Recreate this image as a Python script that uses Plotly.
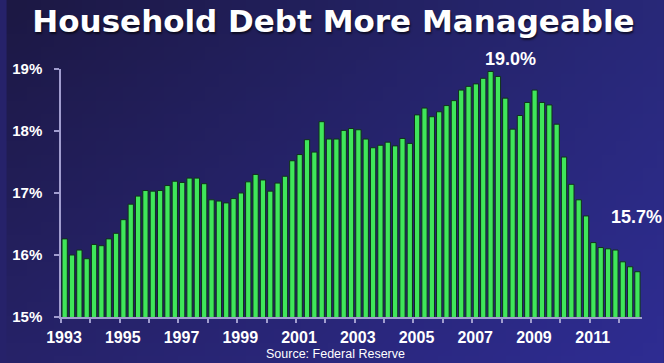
import plotly.graph_objects as go
import zlib, struct, base64

# ---- data (quarterly, 1993Q1 .. 2012Q3) ----
years = list(range(1993, 2013))
values_1993 = [16.26, 16.00, 16.08, 15.94]
values_1994 = [16.17, 16.15, 16.26, 16.35]
values_1995 = [16.57, 16.82, 16.95, 17.04]
values_1996 = [17.03, 17.04, 17.12, 17.19]
values_1997 = [17.17, 17.24, 17.24, 17.15]
values_1998 = [16.89, 16.87, 16.84, 16.91]
values_1999 = [17.00, 17.18, 17.30, 17.21]
values_2000 = [17.03, 17.16, 17.27, 17.52]
values_2001 = [17.62, 17.86, 17.66, 18.15]
values_2002 = [17.87, 17.87, 18.01, 18.04]
values_2003 = [18.02, 17.87, 17.73, 17.77]
values_2004 = [17.82, 17.76, 17.88, 17.80]
values_2005 = [18.26, 18.37, 18.23, 18.31]
values_2006 = [18.41, 18.49, 18.66, 18.72]
values_2007 = [18.76, 18.85, 18.96, 18.88]
values_2008 = [18.53, 18.03, 18.25, 18.46]
values_2009 = [18.66, 18.46, 18.42, 18.11]
values_2010 = [17.58, 17.14, 16.89, 16.63]
values_2011 = [16.20, 16.12, 16.10, 16.08]
values_2012 = [15.89, 15.81, 15.73]
yearly = [values_1993, values_1994, values_1995, values_1996, values_1997,
          values_1998, values_1999, values_2000, values_2001, values_2002,
          values_2003, values_2004, values_2005, values_2006, values_2007,
          values_2008, values_2009, values_2010, values_2011, values_2012]

xpos, vals = [], []
for yr, qs in zip(years, yearly):
    for q, v in enumerate(qs):
        xpos.append(yr + (q + 0.5) / 4.0)
        vals.append(v)

y_ticks = [15, 16, 17, 18, 19]
y_ticktext = ["15%", "16%", "17%", "18%", "19%"]
x_tickvals = list(range(1993, 2013))
x_ticktext = [str(y) if (y - 1993) % 2 == 0 else "" for y in x_tickvals]

# ---- gradient background as PNG ----
def make_png(w, h, fn):
    raw = b""
    for j in range(h):
        row = b"\x00"
        for i in range(w):
            r, g, b = fn(i / (w - 1), j / (h - 1))
            row += bytes((r, g, b))
        raw += row
    def chunk(t, d):
        c = struct.pack(">I", len(d)) + t + d
        return c + struct.pack(">I", zlib.crc32(t + d) & 0xffffffff)
    png = b"\x89PNG\r\n\x1a\n" + chunk(b"IHDR", struct.pack(">IIBBBBB", w, h, 8, 2, 0, 0, 0))
    png += chunk(b"IDAT", zlib.compress(raw)) + chunk(b"IEND", b"")
    return "data:image/png;base64," + base64.b64encode(png).decode()

TL, TR, BL, BR = (28, 24, 68), (40, 40, 120), (38, 34, 104), (46, 44, 146)
def grad(u, v):
    return tuple(int(round((TL[k] * (1 - u) + TR[k] * u) * (1 - v) + (BL[k] * (1 - u) + BR[k] * u) * v)) for k in range(3))
bg = make_png(48, 27, grad)

W, H = 664, 363
ml, mr, mt, mb = 55, 22, 69, 46
pw, ph = W - ml - mr, H - mt - mb

axis_col = "#a19dcf"
fig = go.Figure()
fig.add_trace(go.Bar(
    x=xpos, y=vals, width=0.18,
    marker=dict(color="#3fe65a", line=dict(color="#10301a", width=1)),
    hoverinfo="x+y",
))

imax = vals.index(max(vals))
fig.add_annotation(x=xpos[imax], y=vals[imax], text=f"{vals[imax]:.1f}%", showarrow=False,
                   xshift=20, yshift=12, yanchor="middle",
                   font=dict(family="Liberation Sans, Arial", size=18, color="white", weight="bold"))
fig.add_annotation(x=xpos[-1], y=vals[-1], text=f"{vals[-1]:.1f}%", showarrow=False,
                   xshift=-1, yshift=55, yanchor="middle",
                   font=dict(family="Liberation Sans, Arial", size=18, color="white", weight="bold"))
fig.add_annotation(xref="paper", yref="paper", x=(332 - ml) / pw, y=-(354 - (mt + ph)) / ph,
                   text="Source: Federal Reserve", showarrow=False, yanchor="middle", xanchor="center",
                   font=dict(family="Liberation Sans, Arial", size=12.5, color="white"))

fig.add_layout_image(dict(source=bg, xref="paper", yref="paper",
                          x=-ml / pw, y=1 + mt / ph, sizex=W / pw, sizey=H / ph,
                          sizing="stretch", layer="below", xanchor="left", yanchor="top"))

fig.update_layout(
    width=W, height=H,
    margin=dict(l=ml, r=mr, t=mt, b=mb),
    paper_bgcolor="#26226a", plot_bgcolor="rgba(0,0,0,0)",
    showlegend=False,
    title=dict(text="Household Debt More Manageable", x=333.5 / W, xref="container", xanchor="center",
               y=1 - 21 / H, yref="container", yanchor="middle",
               font=dict(family="DejaVu Sans", size=31, color="white", weight="bold",
                         shadow="1px 2px 2px rgba(0,0,0,0.6)")),
    bargap=0.3,
)
fig.update_xaxes(range=[1993, 2012.78], tickvals=x_tickvals, ticktext=x_ticktext,
                 showgrid=False, zeroline=False, showline=True, linecolor=axis_col, linewidth=1.5,
                 ticks="outside", ticklen=4, tickcolor=axis_col, tickwidth=1.5,
                 ticklabelshift=3, ticklabelstandoff=1,
                 tickfont=dict(family="Liberation Sans, Arial", size=16, color="white", weight="bold"))
fig.update_yaxes(range=[15, 19], tickvals=y_ticks, ticktext=y_ticktext,
                 showgrid=False, zeroline=False, showline=True, linecolor=axis_col, linewidth=1.5,
                 ticks="outside", ticklen=5, tickcolor=axis_col, tickwidth=1.5,
                 ticklabelstandoff=9,
                 tickfont=dict(family="Liberation Sans, Arial", size=15, color="white", weight="bold"))

fig.write_html("out.html")
